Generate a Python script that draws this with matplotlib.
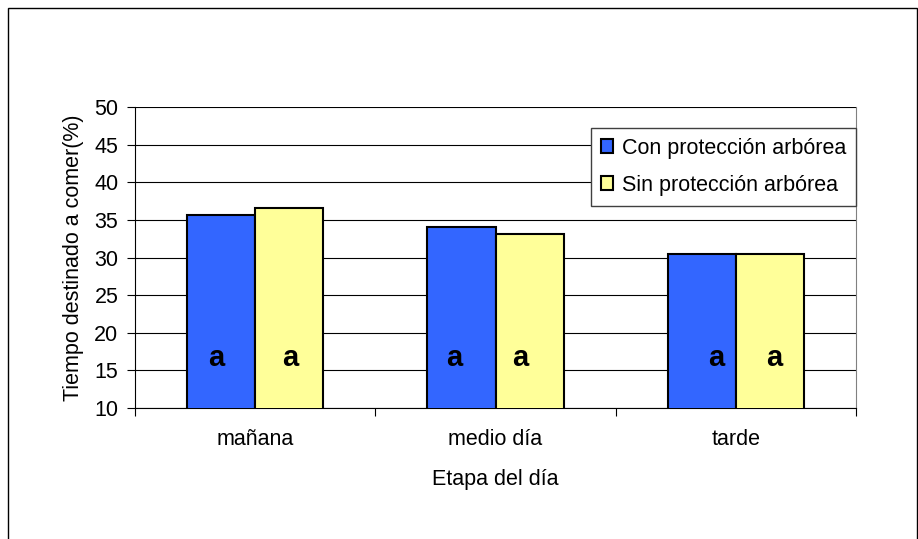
import matplotlib.pyplot as plt
import numpy as np
from matplotlib.patches import Rectangle

plt.rcParams['font.family'] = ['Liberation Sans', 'DejaVu Sans']

# datos
etapas = ['mañana', 'medio día', 'tarde']
con_proteccion = [35.6, 34.1, 30.4]
sin_proteccion = [36.6, 33.1, 30.4]
letras_con = ['a', 'a', 'a']
letras_sin = ['a', 'a', 'a']

fig = plt.figure(figsize=(9.18, 5.39), dpi=100)
# marco exterior del grafico
fig.patches.append(Rectangle((8 / 918, -0.01), 909 / 918, 1 - 8 / 539 + 0.01,
                             transform=fig.transFigure, fill=False,
                             edgecolor='black', linewidth=1))

ax = fig.add_axes([135 / 918, 1 - 408 / 539, 721 / 918, 301 / 539])

x = np.arange(len(etapas))
w = 0.283
ax.bar(x - w / 2, con_proteccion, w, color='#3366FF',
       edgecolor='black', linewidth=1.5, label='Con protección arbórea', zorder=3)
ax.bar(x + w / 2, sin_proteccion, w, color='#FFFF99',
       edgecolor='black', linewidth=1.5, label='Sin protección arbórea', zorder=3)

# letras de significancia
offs_con = [-0.16, -0.17, -0.08]
offs_sin = [0.145, 0.105, 0.16]
for i in range(len(etapas)):
    ax.text(x[i] + offs_con[i], 16.6, letras_con[i], ha='center', va='center',
            fontsize=21, fontweight='bold', zorder=4)
    ax.text(x[i] + offs_sin[i], 16.6, letras_sin[i], ha='center', va='center',
            fontsize=21, fontweight='bold', zorder=4)

ax.set_ylim(10, 50)
ax.set_xlim(-0.5, 2.5)
ax.set_yticks(range(10, 51, 5))
ax.yaxis.grid(True, color='black', linewidth=0.8, zorder=0)
ax.set_xticks([-0.5, 0.5, 1.5, 2.5], minor=False)
ax.set_xticklabels([])
ax.set_xticks(x, minor=True)
ax.set_xticklabels(etapas, minor=True)
ax.tick_params(axis='x', which='minor', length=0, labelsize=15.5, pad=15)
ax.tick_params(axis='x', which='major', length=6, direction='out', width=0.8)
ax.tick_params(axis='y', labelsize=15.5, length=6, direction='out', width=0.8, pad=6)

ax.spines['top'].set_visible(False)
ax.spines['right'].set_color('#808080')
ax.spines['left'].set_color('black')
ax.spines['bottom'].set_color('black')

ax.set_xlabel('Etapa del día', fontsize=15.5, labelpad=14)
ax.set_ylabel('Tiempo destinado a comer(%)', fontsize=15.5, labelpad=7)

leg = ax.legend(loc='upper right', bbox_to_anchor=(1.0, 0.93), fontsize=15.5,
                frameon=True, fancybox=False, edgecolor='#404040',
                handlelength=0.6, handleheight=0.6, handletextpad=0.4,
                borderpad=0.45, labelspacing=0.75, borderaxespad=0,
                framealpha=1)
leg.get_frame().set_linewidth(1)
leg.set_zorder(5)

fig.savefig('out.png', dpi=100)
